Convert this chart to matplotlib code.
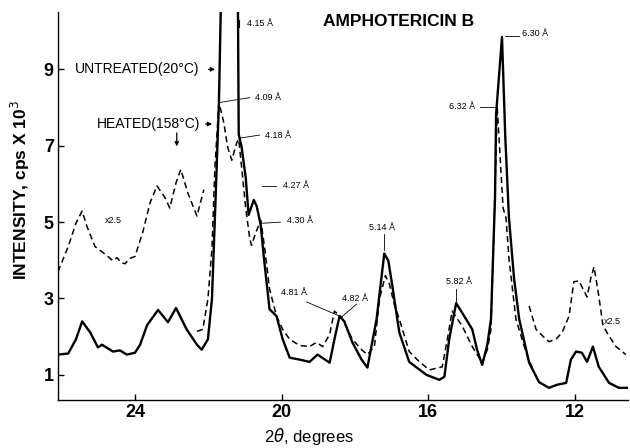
import matplotlib
matplotlib.use("Agg")
import matplotlib.pyplot as plt
import numpy as np

plt.rcParams['font.family'] = ['Liberation Sans', 'DejaVu Sans']

# ---- data: untreated (20 C), solid ----
untreated_2theta = [26.10, 25.82, 25.61, 25.44, 25.22, 25.01, 24.90, 24.60, 24.41, 24.22,
                    24.00, 23.86, 23.67, 23.37, 23.10, 22.88, 22.59, 22.31, 22.18, 22.01,
                    21.90, 21.82, 21.71, 21.63, 21.20, 21.17, 21.09, 20.98, 20.90, 20.76,
                    20.68, 20.57, 20.49, 20.33, 20.14, 19.97, 19.78, 19.51, 19.24, 19.02,
                    18.69, 18.56, 18.42, 18.29, 18.07, 17.82, 17.66, 17.41, 17.20, 17.09,
                    16.98, 16.79, 16.52, 16.05, 15.70, 15.56, 15.43, 15.24, 14.97, 14.80,
                    14.67, 14.53, 14.39, 14.29, 14.18, 14.15, 13.99, 13.90, 13.80, 13.66,
                    13.52, 13.25, 12.98, 12.71, 12.49, 12.24, 12.11, 11.97, 11.81, 11.67,
                    11.51, 11.35, 11.07, 10.80, 10.53]
untreated_int = [1.53, 1.56, 1.93, 2.40, 2.11, 1.72, 1.79, 1.61, 1.64, 1.53,
                 1.58, 1.79, 2.30, 2.70, 2.38, 2.75, 2.19, 1.79, 1.66, 1.93,
                 2.99, 5.11, 8.13, 12.0, 12.0, 7.30, 6.96, 6.17, 5.19, 5.58,
                 5.42, 4.92, 4.13, 2.72, 2.54, 1.93, 1.45, 1.40, 1.34, 1.53,
                 1.32, 1.93, 2.54, 2.40, 1.85, 1.40, 1.19, 2.46, 4.18, 3.99,
                 3.33, 2.11, 1.34, 1.00, 0.87, 0.95, 1.93, 2.88, 2.46, 2.19,
                 1.66, 1.26, 1.79, 2.46, 5.64, 7.83, 9.85, 7.23, 5.11, 3.52,
                 2.46, 1.32, 0.81, 0.66, 0.74, 0.79, 1.40, 1.61, 1.58, 1.34,
                 1.74, 1.21, 0.79, 0.66, 0.66]

# ---- data: heated (158 C), dashed; outer parts plotted x2.5 ----
heated_x25_left_2theta = [26.10, 25.82, 25.61, 25.44, 25.31, 25.09, 24.84, 24.60, 24.49, 24.38,
                          24.27, 24.14, 24.00, 23.78, 23.59, 23.40, 23.18, 23.05, 22.88, 22.75,
                          22.56, 22.31, 22.12]
heated_x25_left_int = [3.70, 4.36, 4.97, 5.29, 4.89, 4.36, 4.18, 3.99, 4.07, 3.94,
                       3.91, 4.05, 4.10, 4.76, 5.50, 5.95, 5.64, 5.37, 6.03, 6.38,
                       5.77, 5.16, 5.85]

heated_2theta = [22.31, 22.15, 22.01, 21.90, 21.82, 21.71, 21.58, 21.47, 21.36, 21.22,
                 21.17, 21.09, 20.98, 20.87, 20.82, 20.71, 20.57, 20.46, 20.33, 20.14,
                 19.97, 19.78, 19.51, 19.24, 19.05, 18.88, 18.69, 18.56, 18.37, 18.07,
                 17.82, 17.66, 17.47, 17.33, 17.17, 17.06, 16.93, 16.79, 16.52, 16.24,
                 15.97, 15.62, 15.48, 15.35, 15.07, 14.80, 14.53, 14.39, 14.29, 14.20,
                 14.12, 14.04, 13.96, 13.88, 13.80, 13.61, 13.33, 13.12]
heated_int = [2.14, 2.19, 2.99, 4.31, 6.43, 8.13, 7.62, 6.96, 6.62, 7.09,
              7.17, 6.43, 5.37, 4.58, 4.39, 4.71, 5.05, 4.31, 3.25, 2.54,
              2.19, 1.93, 1.77, 1.74, 1.85, 1.74, 2.06, 2.67, 2.51, 1.93,
              1.66, 1.53, 1.74, 2.99, 3.60, 3.38, 2.85, 2.46, 1.61, 1.34,
              1.13, 1.21, 1.93, 2.67, 2.27, 1.74, 1.32, 1.66, 2.19, 5.11,
              8.02, 6.70, 5.37, 5.11, 4.05, 2.46, 1.58, 1.08]

heated_x25_right_2theta = [13.25, 13.06, 12.84, 12.71, 12.52, 12.35, 12.16, 12.03, 11.89, 11.78,
                           11.67, 11.57, 11.48, 11.35, 11.24, 11.13, 10.88, 10.61]
heated_x25_right_int = [2.80, 2.19, 1.98, 1.87, 1.93, 2.11, 2.54, 3.44, 3.46, 3.25,
                        3.04, 3.52, 3.83, 3.07, 2.32, 2.11, 1.74, 1.53]

x_ticks = [24, 20, 16, 12]
y_ticks = [1, 3, 5, 7, 9]

fig = plt.figure(figsize=(6.3, 4.48), dpi=100)
ax = fig.add_axes([0.092, 0.107, 0.905, 0.866])

solid_kw = dict(color='black', lw=1.7, solid_joinstyle='round')
dash_kw = dict(color='black', lw=1.1, dashes=(4, 2.5))
ax.plot(untreated_2theta, untreated_int, **solid_kw)
ax.plot(heated_x25_left_2theta, heated_x25_left_int, **dash_kw)
ax.plot(heated_2theta, heated_int, **dash_kw)
ax.plot(heated_x25_right_2theta, heated_x25_right_int, **dash_kw)

ax.set_xlim(26.1, 10.55)
ax.set_ylim(0.34, 10.5)
ax.set_xticks(x_ticks)
ax.set_yticks(y_ticks)
ax.tick_params(direction='in', length=4, width=1, labelsize=13, pad=3)
for lab in ax.get_xticklabels() + ax.get_yticklabels():
    lab.set_fontweight('bold')
for s in ['top', 'right']:
    ax.spines[s].set_visible(False)
for s in ['left', 'bottom']:
    ax.spines[s].set_linewidth(1.0)

ax.set_ylabel('INTENSITY, cps X 10$^3$', fontsize=12.5, fontweight='bold')
ax.yaxis.set_label_coords(-0.045, 0.54)
ax.set_xlabel(r'2$\it{\theta}$, degrees', fontsize=12)
ax.xaxis.set_label_coords(0.44, -0.068)

ax.text(16.82, 10.25, 'AMPHOTERICIN B', fontsize=12.5, fontweight='bold', ha='center', va='center')

ax.text(25.63, 9.0, 'UNTREATED(20°C)', fontsize=10, va='center', ha='left')
ax.annotate('', xy=(21.74, 9.0), xytext=(22.07, 9.0),
            arrowprops=dict(arrowstyle='-|>', color='black', lw=0.9, mutation_scale=6))
ax.text(25.03, 7.57, 'HEATED(158°C)', fontsize=10, va='center', ha='left')
ax.annotate('', xy=(21.82, 7.57), xytext=(22.15, 7.57),
            arrowprops=dict(arrowstyle='-|>', color='black', lw=0.9, mutation_scale=6))
ax.annotate('', xy=(22.86, 6.91), xytext=(22.86, 7.41),
            arrowprops=dict(arrowstyle='-|>', color='black', lw=0.9, mutation_scale=6))

ax.text(24.82, 5.03, 'x2.5', fontsize=6.5, va='center', ha='left')
ax.text(11.21, 2.40, 'x2.5', fontsize=6.5, va='center', ha='left')

labels = [
    ('4.15 Å', (20.95, 10.19), None),
    ('4.09 Å', (20.73, 8.26), ((21.71, 8.13), (20.87, 8.26))),
    ('4.18 Å', (20.46, 7.28), ((21.14, 7.20), (20.60, 7.28))),
    ('4.27 Å', (19.97, 5.95), ((20.54, 5.95), (20.14, 5.95))),
    ('4.30 Å', (19.86, 5.03), ((20.52, 4.97), (20.03, 5.00))),
    ('4.81 Å', (20.03, 3.15), ((19.32, 2.91), (18.42, 2.54))),
    ('4.82 Å', (18.34, 3.01), ((17.96, 2.85), (18.37, 2.51))),
    ('5.14 Å', (17.61, 4.87), ((17.20, 4.68), (17.20, 4.28))),
    ('5.82 Å', (15.51, 3.44), ((15.24, 3.25), (15.24, 2.93))),
    ('6.32 Å', (15.43, 8.02), ((14.58, 8.02), (14.15, 8.02))),
    ('6.30 Å', (13.44, 9.93), ((13.90, 9.87), (13.52, 9.87))),
]
for txt, pos, leader in labels:
    ax.text(pos[0], pos[1], txt, fontsize=6.5, va='center', ha='left')
    if leader is not None:
        (x0, y0), (x1, y1) = leader
        ax.plot([x0, x1], [y0, y1], color='black', lw=0.6)
ax.plot([21.17, 21.17], [10.1, 10.3], color='black', lw=0.8)

fig.savefig('out.png', dpi=100)
